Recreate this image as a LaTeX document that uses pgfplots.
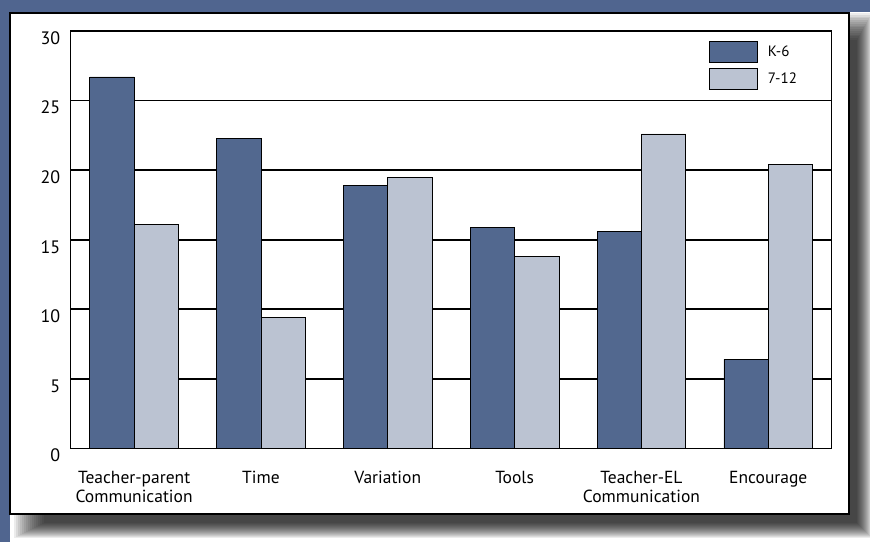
\documentclass[border=0pt]{standalone}
\usepackage{pgfplots}
\pgfplotsset{compat=1.18}
\usepackage{fontspec}
\setmainfont{PT Sans}
\definecolor{bgblue}{RGB}{80,101,143}
\definecolor{kdark}{RGB}{82,104,143}
\definecolor{klight}{RGB}{187,195,210}
\begin{document}
\begin{tikzpicture}[x=1pt,y=1pt]
\useasboundingbox (0,0) rectangle (870,542);
\fill[white] (0,0) rectangle (870,542);
\foreach \i in {0,...,15} {
  \fill[black, opacity=0.075] (14+2*\i, 4+\i) rectangle (872-\i, 529-1.8*\i);
}
\fill[bgblue] (0,530) rectangle (870,542);
\fill[bgblue] (0,0) rectangle (9.5,542);
\filldraw[fill=white, draw=black, line width=2pt] (10,27.7) rectangle (849,529);
\begin{axis}[
  at={(70.7pt,93.5pt)}, anchor=south west,
  width=761pt, height=417.5pt, scale only axis,
  xmin=-0.5, xmax=5.5, ymin=0, ymax=30,
  ybar=0pt, bar width=44.3pt,
  xtick={0,...,5},
  xticklabels={{Teacher-parent\\Communication},Time,Variation,Tools,{Teacher-EL\\Communication},Encourage},
  ytick={0,5,...,30},
  major tick length=0pt,
  ymajorgrids,
  grid style={black, line width=1.7pt},
  axis line style={black, line width=1.2pt},
  /pgf/number format/assume math mode=true,
  xticklabel style={align=center, font=\fontsize{17.5}{19}\selectfont, yshift=-19pt},
  yticklabel style={font=\fontsize{18}{19}\selectfont, xshift=-7pt, yshift=-7pt},
  legend style={at={(rel axis cs:0.839,0.977)}, anchor=north west, draw=none, fill=none,
    inner sep=0pt, outer sep=0pt, row sep=5.8pt, column sep=10pt,
    nodes={inner sep=0pt, anchor=west}, font=\fontsize{15}{16}\selectfont},
  legend cell align=left,
  legend image code/.code={\draw[#1] (0pt,-10.5pt) rectangle (48pt,10.5pt);},
]
\addplot[fill=kdark, draw=black, line width=0.8pt] coordinates {(0,26.7) (1,22.3) (2,18.9) (3,15.9) (4,15.6) (5,6.4)};
\addplot[fill=klight, draw=black, line width=0.8pt] coordinates {(0,16.1) (1,9.4) (2,19.5) (3,13.8) (4,22.6) (5,20.4)};
\legend{K-6,7-12}
\end{axis}
\end{tikzpicture}
\end{document}
